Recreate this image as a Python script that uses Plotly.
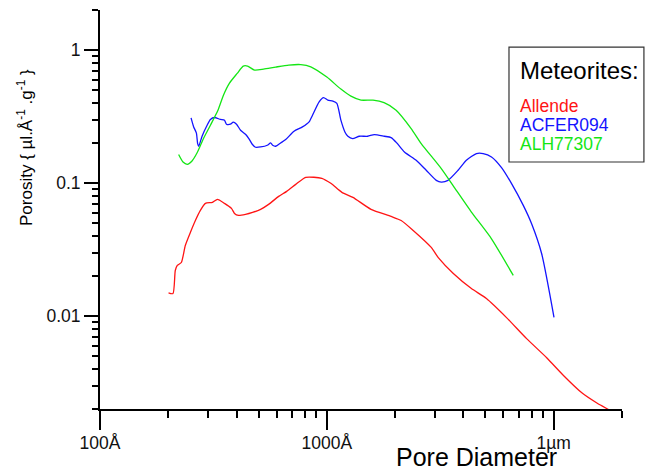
import math
import plotly.graph_objects as go

# Pore diameter (Å) and differential porosity (µl·Å⁻¹·g⁻¹) for each meteorite
allende_d = [200.5, 209.7, 214.7, 219.1, 228.3, 237.7, 250.2, 263.3, 277.0, 291.5,
             313.0, 329.4, 353.8, 379.8, 391.6, 407.9, 438.0, 470.5, 510.5, 553.7,
             613.3, 665.3, 729.3, 807.4, 950.4, 1041, 1165, 1303, 1566, 1920,
             2126, 2402, 2885, 3099, 3610, 4337, 5052, 6194, 7596, 9311,
             11070, 13300, 15500, 17520, 18620]
allende_p = [0.01493, 0.01475, 0.0220, 0.0240, 0.02526, 0.0339, 0.0425, 0.0523, 0.0623, 0.0703,
             0.0716, 0.0754, 0.0703, 0.0645, 0.0591, 0.0571, 0.0581, 0.0601, 0.0634, 0.0691,
             0.0794, 0.0866, 0.0977, 0.1104, 0.1085, 0.0995, 0.0851, 0.0780, 0.0634, 0.0561,
             0.0523, 0.0440, 0.0328, 0.0275, 0.0209, 0.0161, 0.01353, 0.00973, 0.00676, 0.00486,
             0.00356, 0.00265, 0.00222, 0.00197, 0.00181]

acfer_d = [252.0, 258.8, 265.9, 269.4, 272.3, 281.8, 296.6, 306.7, 319.5, 339.6,
           353.8, 361.0, 376.0, 386.6, 399.8, 416.4, 438.0, 453.0, 469.0, 485.1,
           510.5, 546.4, 565.1, 576.8, 594.8, 625.9, 658.6, 716.6, 780.6, 835.1,
           864.5, 924.6, 967.0, 1010, 1063, 1107, 1153, 1201, 1238, 1299,
           1390, 1514, 1619, 1792, 1920, 2040, 2198, 2476, 2742, 3036,
           3195, 3420, 3787, 4121, 4564, 4886, 5318, 5888, 6520, 7343,
           7991, 8850, 10030]
acfer_p = [0.3090, 0.2642, 0.2381, 0.1981, 0.1891, 0.2248, 0.2721, 0.3005, 0.3111, 0.3005,
           0.2969, 0.2769, 0.2769, 0.2867, 0.2769, 0.2495, 0.2328, 0.2161, 0.1957, 0.1858,
           0.1868, 0.1924, 0.2002, 0.1924, 0.1891, 0.2002, 0.2124, 0.2452, 0.2642, 0.2883,
           0.3237, 0.4078, 0.4386, 0.4200, 0.4127, 0.3966, 0.2969, 0.2423, 0.2248, 0.2161,
           0.2248, 0.2248, 0.2316, 0.2248, 0.2198, 0.1991, 0.1713, 0.1483, 0.1247, 0.1048,
           0.1017, 0.1048, 0.1247, 0.1483, 0.1666, 0.1666, 0.1571, 0.1306, 0.0990, 0.0679,
           0.0494, 0.0294, 0.00978]

alh_d = [222.1, 232.2, 242.7, 254.5, 268.7, 285.6, 306.7, 331.1, 350.1, 372.2,
         402.6, 428.0, 447.1, 480.2, 526.2, 594.8, 679.2, 767.4, 849.6, 1000,
         1153, 1277, 1414, 1598, 1787, 2020, 2353, 2606, 3195, 3722,
         4337, 5318, 6633]
alh_p = [0.1637, 0.1439, 0.1383, 0.1465, 0.1703, 0.2154, 0.2721, 0.3530, 0.4580, 0.5640,
         0.6676, 0.7575, 0.7575, 0.7069, 0.7192, 0.7446, 0.7709, 0.7775, 0.7484, 0.6259,
         0.5084, 0.4500, 0.4200, 0.4200, 0.4022, 0.3530, 0.2570, 0.1981, 0.1284, 0.0881,
         0.0605, 0.0381, 0.0202]

series_names = ["Allende", "ACFER094", "ALH77307"]
series_colors = ["#ff1414", "#1414ff", "#14e614"]
series_x = [allende_d, acfer_d, alh_d]
series_y = [allende_p, acfer_p, alh_p]

x_tickvals = [100, 1000, 10000]
x_ticktext = ["100Å", "1000Å", "1µm"]
x_minor = [200, 300, 400, 500, 600, 700, 800, 900,
           2000, 3000, 4000, 5000, 6000, 7000, 8000, 9000, 20000]
x_limits = [100, 20000]

y_tickvals = [0.01, 0.1, 1]
y_ticktext = ["0.01", "0.1", "1"]
y_minor = [0.002, 0.003, 0.004, 0.005, 0.006, 0.007, 0.008, 0.009,
           0.02, 0.03, 0.04, 0.05, 0.06, 0.07, 0.08, 0.09,
           0.2, 0.3, 0.4, 0.5, 0.6, 0.7, 0.8, 0.9, 2]
y_limits = [0.002, 2]

FONT = "Arial, Liberation Sans, sans-serif"

fig = go.Figure()
for name, color, xs, ys in zip(series_names, series_colors, series_x, series_y):
    fig.add_trace(go.Scatter(
        x=xs, y=ys, name=name, mode="lines",
        line=dict(color=color, width=1.3, shape="spline", smoothing=0.6),
        showlegend=False,
    ))

fig.update_xaxes(
    type="log",
    range=[math.log10(v) for v in x_limits],
    showgrid=False, zeroline=False,
    showline=True, linecolor="black", linewidth=2,
    ticks="outside", ticklen=19, tickwidth=2, tickcolor="black",
    tickmode="array", tickvals=x_tickvals, ticktext=x_ticktext,
    ticklabelstandoff=-2,
    tickfont=dict(family=FONT, size=17.5, color="#111"),
    minor=dict(tickmode="array", tickvals=x_minor, ticks="outside",
               ticklen=7, tickwidth=1.5, tickcolor="black", showgrid=False),
)
fig.update_yaxes(
    type="log",
    range=[math.log10(v) for v in y_limits],
    showgrid=False, zeroline=False,
    showline=True, linecolor="black", linewidth=2,
    ticks="outside", ticklen=14, tickwidth=2, tickcolor="black",
    tickmode="array", tickvals=y_tickvals, ticktext=y_ticktext,
    tickfont=dict(family=FONT, size=17.5, color="#111"),
    minor=dict(tickmode="array", tickvals=y_minor, ticks="outside",
               ticklen=6, tickwidth=1.5, tickcolor="black", showgrid=False),
)

# Legend box drawn by hand with coloured series names
fig.add_shape(type="rect", xref="paper", yref="paper",
              x0=0.7835, x1=1.042, y0=0.619, y1=0.907,
              line=dict(color="#333", width=1.2), fillcolor="white", layer="above")
fig.add_annotation(text="Meteorites:", xref="paper", yref="paper",
                   x=0.8008, y=0.849, xanchor="left", yanchor="middle",
                   showarrow=False, font=dict(family=FONT, size=24, color="black"))
legend_rows = [0.759, 0.712, 0.664]
for name, color, ypos in zip(series_names, series_colors, legend_rows):
    fig.add_annotation(text=name, xref="paper", yref="paper",
                       x=0.8008, y=ypos, xanchor="left", yanchor="middle",
                       showarrow=False, font=dict(family=FONT, size=17.5, color=color))

# Axis titles
fig.add_annotation(text="Pore Diameter", xref="paper", yref="paper",
                   x=0.722, y=-0.12, xanchor="center", yanchor="middle",
                   showarrow=False, font=dict(family=FONT, size=25, color="black"))
fig.add_annotation(text="Porosity { µl.Å<sup>-1</sup> .g<sup>-1</sup> }",
                   xref="paper", yref="paper", x=-0.145, y=0.655,
                   xanchor="center", yanchor="middle", textangle=-90,
                   showarrow=False, font=dict(family=FONT, size=17, color="black"))

fig.update_layout(
    width=645, height=467,
    margin=dict(l=100, r=23, t=10, b=58),
    paper_bgcolor="white", plot_bgcolor="white",
)

fig.write_html("out.html")
